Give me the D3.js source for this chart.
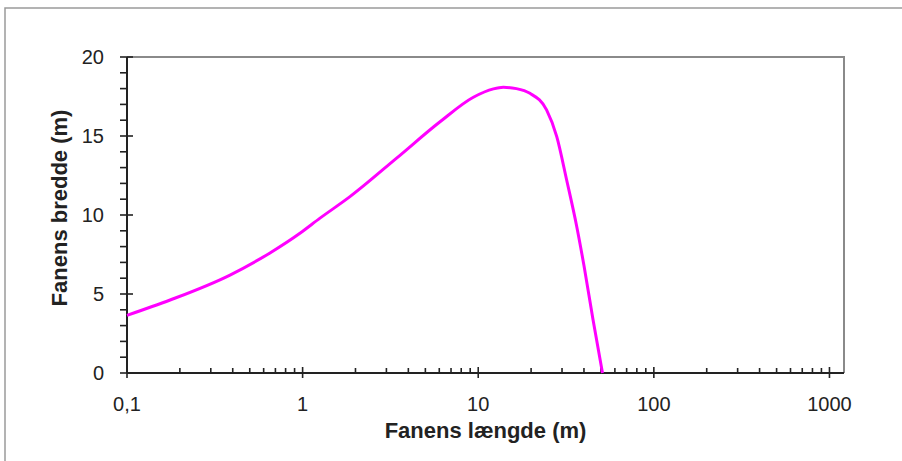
<!DOCTYPE html>
<html>
<head>
<meta charset="utf-8">
<script src="https://cdn.jsdelivr.net/npm/d3@7"></script>
<style>
  html, body { margin: 0; padding: 0; background: #fff; }
  svg { display: block; }
  text { font-family: "Liberation Sans", Arial, sans-serif; fill: #222; }
</style>
</head>
<body>
<div id="chart"></div>
<script>
// plume length (m) vs plume width (m)
const lengths = [0.1, 0.176, 0.386, 0.652, 0.97, 1.256, 1.86, 3.43, 6.06, 9.38, 12.2, 13.9, 16.5, 19.7, 24.5, 28, 31.9, 36.4, 40, 45, 51];
const widths  = [3.65, 4.62, 6.2, 7.6, 8.86, 9.8, 11.16, 13.6, 15.9, 17.45, 17.98, 18.08, 18.0, 17.7, 16.65, 14.96, 12.2, 9.26, 6.8, 3.4, 0];

const xMajor = [0.1, 1, 10, 100, 1000];
const xLabels = ["0,1", "1", "10", "100", "1000"];
const yMajor = [0, 5, 10, 15, 20];

const width = 902, height = 461;
const plotL = 127, plotR = 844, plotT = 57, plotB = 373;

const svg = d3.select("#chart").append("svg")
  .attr("width", width)
  .attr("height", height);

// outer frame
svg.append("path")
  .attr("d", `M5,${height + 5} L5,8 L${width + 5},8`)
  .attr("fill", "none")
  .attr("stroke", "#9a9a9a")
  .attr("stroke-width", 1.5);

const x = d3.scaleLog().domain([0.1, 1210]).range([plotL, plotR]);
const y = d3.scaleLinear().domain([0, 20]).range([plotB, plotT]);

// top + right frame of plot area
svg.append("path")
  .attr("d", `M${plotL},${plotT} L${plotR},${plotT} L${plotR},${plotB}`)
  .attr("fill", "none")
  .attr("stroke", "#8a8a8a")
  .attr("stroke-width", 2);

// minor ticks
const xMinor = [];
xMajor.forEach(d => {
  for (let k = 2; k <= 9; k++) {
    const v = d * k;
    if (v < 1210) xMinor.push(v);
  }
});
const yMinor = d3.range(0, 21).filter(v => v % 5 !== 0);

const axes = svg.append("g").attr("stroke", "#222").attr("stroke-width", 1.6);

axes.selectAll(".xminor").data(xMinor).join("line")
  .attr("x1", d => x(d)).attr("x2", d => x(d))
  .attr("y1", plotB).attr("y2", plotB - 5);

axes.selectAll(".xmajor").data(xMajor).join("line")
  .attr("x1", d => x(d)).attr("x2", d => x(d))
  .attr("y1", plotB - 6).attr("y2", plotB + 5);

axes.selectAll(".yminor").data(yMinor).join("line")
  .attr("x1", plotL - 7).attr("x2", plotL)
  .attr("y1", d => y(d)).attr("y2", d => y(d));

axes.selectAll(".ymajor").data(yMajor).join("line")
  .attr("x1", plotL - 7).attr("x2", plotL + 6)
  .attr("y1", d => y(d)).attr("y2", d => y(d));

// axis lines
axes.append("line")
  .attr("x1", plotL).attr("x2", plotR)
  .attr("y1", plotB).attr("y2", plotB)
  .attr("stroke-width", 2);
axes.append("line")
  .attr("x1", plotL).attr("x2", plotL)
  .attr("y1", plotT).attr("y2", plotB)
  .attr("stroke-width", 2);

// tick labels
svg.selectAll(".xlab").data(xMajor).join("text")
  .attr("x", d => x(d))
  .attr("y", plotB + 38)
  .attr("text-anchor", "middle")
  .attr("font-size", 20)
  .text((d, i) => xLabels[i]);

svg.selectAll(".ylab").data(yMajor).join("text")
  .attr("x", plotL - 23)
  .attr("y", d => y(d) + 7)
  .attr("text-anchor", "end")
  .attr("font-size", 20)
  .text(d => d);

// axis titles
svg.append("text")
  .attr("x", (plotL + plotR) / 2)
  .attr("y", 438)
  .attr("text-anchor", "middle")
  .attr("font-size", 22)
  .attr("font-weight", "bold")
  .text("Fanens længde (m)");

svg.append("text")
  .attr("transform", `translate(67,${(plotT + plotB) / 2 - 7}) rotate(-90)`)
  .attr("text-anchor", "middle")
  .attr("font-size", 22)
  .attr("font-weight", "bold")
  .text("Fanens bredde (m)");

// curve
const line = d3.line()
  .x((d, i) => x(lengths[i]))
  .y((d, i) => y(widths[i]))
  .curve(d3.curveMonotoneX);

svg.append("path")
  .datum(widths)
  .attr("d", line)
  .attr("fill", "none")
  .attr("stroke", "#ff00ff")
  .attr("stroke-width", 3);
</script>
</body>
</html>
